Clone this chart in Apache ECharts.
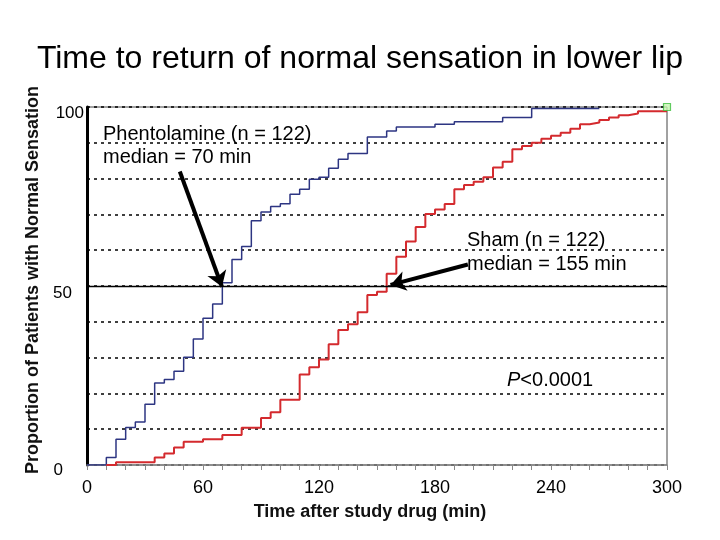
<!DOCTYPE html>
<html>
<head>
<meta charset="utf-8">
<script src="https://cdn.jsdelivr.net/npm/echarts@6/dist/echarts.min.js"></script>
<style>
	html, body {margin: 0; padding: 0; background: #fff;}
	#chart {width: 720px; height: 540px;}
</style>
</head>
<body>
<div id="chart"></div>
<script>
// minutes after study drug, and % of patients with normal sensation
const phentTime = [0, 10, 15, 20, 25, 30, 35, 40, 45, 50, 55, 60, 65, 70, 75, 80, 85, 90, 95, 100, 105, 110, 115, 120, 125, 130, 135, 145, 155, 160, 180, 190, 215, 230, 265];
const phentPct = [0, 2.1, 7.2, 10.5, 12.0, 17.0, 22.9, 23.9, 26.2, 30.1, 35.2, 41.0, 45.0, 50.9, 57.4, 61.0, 68.2, 70.7, 72.2, 73.0, 75.6, 77.0, 79.8, 80.4, 82.9, 85.4, 87.0, 91.6, 93.3, 94.4, 95.2, 95.9, 97.1, 99.6, 99.6];
const shamTime = [10, 15, 35, 40, 45, 50, 60, 70, 80, 90, 95, 100, 110, 115, 120, 125, 130, 135, 140, 145, 150, 155, 160, 165, 170, 175, 180, 185, 190, 195, 200, 205, 210, 215, 220, 225, 230, 235, 240, 245, 250, 255, 260, 265, 270, 275, 280, 285, 300];
const shamPct = [0, 0.8, 2.1, 3.2, 4.9, 6.5, 7.2, 8.4, 10.4, 13.1, 14.7, 18.2, 25.3, 27.3, 29.5, 33.7, 37.7, 39.3, 42.7, 47.5, 48.4, 53.4, 58.2, 62.4, 66.5, 70.1, 71.4, 72.9, 77.0, 78.2, 79.1, 80.4, 83.1, 84.7, 88.2, 89.1, 90.0, 91.1, 92.0, 92.8, 93.9, 95.2, 95.7, 96.4, 97.1, 97.7, 98.2, 98.8, 98.8];
const endMarker = [300, 100];
const arrowPhent = [[48, 82], [69.8, 49.8]];
const arrowSham = [[197, 56], [157, 50.3]];
const xLabelStep = 60;
const yLabels = {100: "{a|100}", 50: "{b|50}", 0: "{c|0}"};

const font = "'Liberation Sans', Arial, sans-serif";
const zip = (xs, ys) => xs.map((x, i) => [x, ys[i]]);

const chart = echarts.init(document.getElementById("chart"));
const option = {
	backgroundColor: "#fff",
	animation: false,
	title: {
		text: "Time to return of normal sensation in lower lip",
		left: "center",
		top: 38,
		textStyle: {fontFamily: font, fontSize: 32, fontWeight: "normal", color: "#000"},
	},
	grid: {left: 87, right: 53, top: 107, bottom: 75, show: true, borderColor: "#444", borderWidth: 1},
	xAxis: {
		type: "value",
		min: 0,
		max: 300,
		interval: 10,
		name: "Time after study drug (min)",
		nameLocation: "middle",
		nameGap: 38,
		nameTextStyle: {fontFamily: font, fontSize: 18, fontWeight: "bold", color: "#111", padding: [0, 14, 0, 0]},
		axisLine: {lineStyle: {color: "#888", width: 1.5}},
		axisTick: {show: true, length: 5, lineStyle: {color: "#888"}},
		splitLine: {show: false},
		axisLabel: {
			margin: 14,
			fontFamily: font,
			fontSize: 18,
			color: "#000",
			formatter: (v) => (v % xLabelStep === 0 ? String(v) : ""),
		},
	},
	yAxis: {
		type: "value",
		min: 0,
		max: 100,
		interval: 10,
		name: "Proportion of Patients with Normal Sensation",
		nameLocation: "middle",
		nameGap: 42,
		nameTextStyle: {fontFamily: font, fontSize: 18, fontWeight: "bold", color: "#111", padding: [0, 0, 0, 12]},
		axisLine: {show: true, lineStyle: {color: "#000", width: 3}},
		axisTick: {show: false},
		splitLine: {show: true, lineStyle: {color: "#000", width: 1.5, type: [3, 4]}},
		axisLabel: {
			margin: 3,
			formatter: (v) => yLabels[v] || "",
			rich: {
				a: {fontFamily: font, fontSize: 17, color: "#000", padding: [12, 0, 0, 0]},
				b: {fontFamily: font, fontSize: 17, color: "#000", padding: [14, 12, 0, 0]},
				c: {fontFamily: font, fontSize: 17, color: "#000", padding: [10, 21, 0, 0]},
			},
		},
	},
	series: [
		{
			name: "Phentolamine",
			type: "line",
			step: "end",
			showSymbol: false,
			data: zip(phentTime, phentPct),
			lineStyle: {color: "#2d3582", width: 1.5},
			z: 3,
			markLine: {
				silent: true,
				symbol: ["none", "arrow"],
				symbolSize: 15,
				label: {show: false},
				lineStyle: {color: "#000", width: 4, type: "solid"},
				data: [
					[{coord: arrowPhent[0]}, {coord: arrowPhent[1]}],
					[{coord: arrowSham[0]}, {coord: arrowSham[1]}],
				],
			},
		},
		{
			name: "Sham",
			type: "line",
			step: "end",
			showSymbol: false,
			data: zip(shamTime, shamPct),
			lineStyle: {color: "#d42a2e", width: 2},
			z: 3,
			markLine: {
				silent: true,
				symbol: ["none", "none"],
				label: {show: false},
				lineStyle: {color: "#000", width: 1.3, type: "solid"},
				data: [{yAxis: 50}],
			},
		},
		{
			name: "end",
			type: "scatter",
			symbol: "rect",
			symbolSize: 7,
			data: [endMarker],
			itemStyle: {color: "#c6f5b0", borderColor: "#3fbf3f", borderWidth: 1.2},
			z: 4,
		},
	],
	graphic: [
		{
			type: "text",
			left: 103,
			top: 123,
			style: {text: "Phentolamine (n = 122)\nmedian = 70 min", font: "20px " + font, fill: "#000", lineHeight: 23},
		},
		{
			type: "text",
			left: 467,
			top: 228,
			style: {text: "Sham (n = 122)\nmedian = 155 min", font: "20px " + font, fill: "#000", lineHeight: 24},
		},
		{
			type: "text",
			left: 507,
			top: 370,
			style: {
				text: "{i|P}<0.0001",
				font: "20px " + font,
				fill: "#000",
				rich: {i: {fontFamily: font, fontSize: 20, fontStyle: "italic", fill: "#000"}},
			},
		},
	],
};
option && chart.setOption(option);
</script>
</body>
</html>
